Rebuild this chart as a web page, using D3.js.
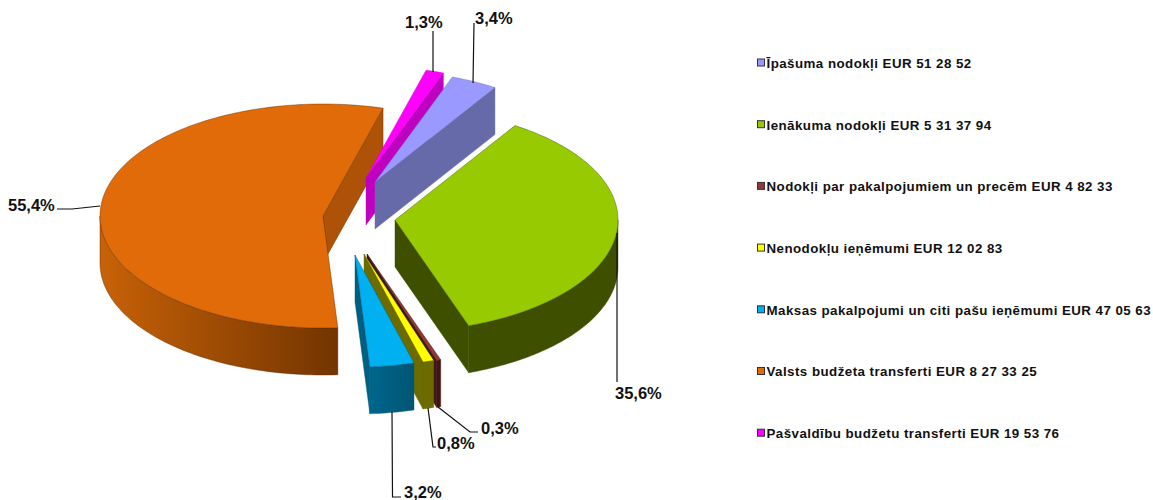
<!DOCTYPE html>
<html>
<head>
<meta charset="utf-8">
<script src="https://cdn.jsdelivr.net/npm/d3@7"></script>
<style>
    html, body { margin: 0; padding: 0; background: #fff; }
    text { font-family: "Liberation Sans", Arial, sans-serif; font-weight: bold; fill: #111; }
</style>
</head>
<body>
<div id="chart"></div>
<script>
// data
const categories = [
    "Īpašuma nodokļi EUR 51 28 52",
    "Ienākuma nodokļi EUR 5 31 37 94",
    "Nodokļi par pakalpojumiem un precēm EUR 4 82 33",
    "Nenodokļu ieņēmumi EUR 12 02 83",
    "Maksas pakalpojumi un citi pašu ieņēmumi EUR 47 05 63",
    "Valsts budžeta transferti EUR 8 27 33 25",
    "Pašvaldību budžetu transferti EUR 19 53 76"
];
const shares = [3.4, 35.6, 0.3, 0.8, 3.2, 55.4, 1.3];
const shareLabels = ["3,4%", "35,6%", "0,3%", "0,8%", "3,2%", "55,4%", "1,3%"];

// colours
const topColors = ["#9999ff", "#97ca00", "#953735", "#ffff00", "#00b0f0", "#e16b08", "#ff00ff"];
const wallColors = ["#666aa8", "#3f4f00", "#3f1414", "#6b6b00", "#005f80", "#a85008", "#c000c0"];

// layout
const width = 1153, height = 500;
const center = {x: 359, y: 218};
const rx = 223, ry = 112, depth = 47;
const startDeg = 20.3;
// how far each slice is pulled out of the pie, per slice
const explodeX = [16, 36, 8, 5, -4, -36, 7];
const explodeY = [-36, 2, 36, 36, 37, -2, -40];
// back to front
const drawOrder = [5, 6, 0, 1, 2, 3, 4];

// leaders: [points], label x, label y
const leaders = [
    {line: [[474, 23], [473, 83]], lx: 475, ly: 18},
    {line: [[617, 233], [617, 382]], lx: 615, ly: 393},
    {line: [[438, 407], [470, 432], [478, 432]], lx: 481, ly: 428},
    {line: [[428, 408], [433, 447], [436, 447]], lx: 437, ly: 443},
    {line: [[392, 412], [392.5, 497], [401, 497]], lx: 404, ly: 492},
    {line: [[57, 209], [72, 209], [100, 206]], lx: 8, ly: 205},
    {line: [[433, 31], [433, 72]], lx: 405, ly: 22}
];

const legendX = 757, legendTop = 63, legendStep = 61.7, swatch = 8;

const svg = d3.select("#chart").append("svg")
    .attr("width", width)
    .attr("height", height)
    .style("display", "block");

const defs = svg.append("defs");

// the orange wall darkens to the right, the blue one a little too
const wallGradient = (id, x1, x2, c1, c2) => {
    const g = defs.append("linearGradient")
        .attr("id", id)
        .attr("gradientUnits", "userSpaceOnUse")
        .attr("x1", x1).attr("x2", x2)
        .attr("y1", 0).attr("y2", 0);
    g.append("stop").attr("offset", 0).attr("stop-color", c1);
    g.append("stop").attr("offset", 1).attr("stop-color", c2);
};
wallGradient("wallOrange", 99, 340, "#c86208", "#723400");
wallGradient("wallBlue", 370, 414, "#00668c", "#005573");

const outerFill = i => i === 5 ? "url(#wallOrange)" : i === 4 ? "url(#wallBlue)" : wallColors[i];

const pie = d3.pie()
    .sort(null)
    .value(d => d)
    .startAngle(startDeg * Math.PI / 180)
    .endAngle(startDeg * Math.PI / 180 + 2 * Math.PI);

const slices = pie(shares);

const line = d3.line();
const closed = pts => line(pts) + "Z";

// t is measured clockwise from the top, as d3.pie does it
const rimPoint = (a, t, dy = 0) => [a.x + rx * Math.sin(t), a.y - ry * Math.cos(t) + dy];

const rim = (a, t0, t1, dy = 0) => {
    const n = Math.max(2, Math.ceil((t1 - t0) / 0.02));
    return d3.range(n + 1).map(k => rimPoint(a, t0 + (t1 - t0) * k / n, dy));
};

// thin outline in the slice's own dark shade
const edged = (sel, i) => sel
    .attr("stroke", i === 5 ? "#5a2a00" : wallColors[i])
    .attr("stroke-opacity", 0.7)
    .attr("stroke-width", 0.6)
    .attr("stroke-linejoin", "round");

const pieGroup = svg.append("g").attr("class", "pie");

drawOrder.forEach(i => {
    const s = slices[i];
    const t0 = s.startAngle, t1 = s.endAngle;
    const apex = {x: center.x + explodeX[i], y: center.y + explodeY[i]};
    const g = pieGroup.append("g");
    const apexPt = [apex.x, apex.y];

    // flat side walls, only the ones turned towards the viewer
    if (Math.sin(t0) < 0) {
        const a = rimPoint(apex, t0);
        edged(g.append("path")
            .attr("d", closed([apexPt, a, [a[0], a[1] + depth], [apex.x, apex.y + depth]]))
            .attr("fill", wallColors[i]), i);
    }
    if (Math.sin(t1) > 0) {
        const a = rimPoint(apex, t1);
        edged(g.append("path")
            .attr("d", closed([apexPt, a, [a[0], a[1] + depth], [apex.x, apex.y + depth]]))
            .attr("fill", i === 5 ? "#ad5206" : wallColors[i]), i);
    }

    // outer wall, the part of the rim in the front half
    const from = Math.max(t0, Math.PI / 2), to = Math.min(t1, 3 * Math.PI / 2);
    if (to > from) {
        const upper = rim(apex, from, to);
        const lower = rim(apex, from, to, depth).reverse();
        edged(g.append("path")
            .attr("d", closed(upper.concat(lower)))
            .attr("fill", outerFill(i)), i);
    }

    // top face
    edged(g.append("path")
        .attr("d", closed([apexPt].concat(rim(apex, t0, t1))))
        .attr("fill", topColors[i]), i);
});

// leaders and percentage labels
const labelGroup = svg.append("g").attr("class", "labels");

labelGroup.selectAll("path")
    .data(leaders)
    .join("path")
    .attr("d", d => line(d.line))
    .attr("fill", "none")
    .attr("stroke", "#111")
    .attr("stroke-width", 1.2);

labelGroup.selectAll("text")
    .data(leaders)
    .join("text")
    .attr("x", d => d.lx)
    .attr("y", d => d.ly)
    .attr("dy", "0.36em")
    .attr("font-size", 16.5)
    .text((d, i) => shareLabels[i]);

// legend
const legend = svg.append("g").attr("class", "legend")
    .selectAll("g")
    .data(categories)
    .join("g")
    .attr("transform", (d, i) => `translate(${legendX}, ${legendTop + i * legendStep})`);

legend.append("rect")
    .attr("x", 0.5)
    .attr("y", -swatch / 2)
    .attr("width", swatch - 1)
    .attr("height", swatch - 1)
    .attr("fill", (d, i) => topColors[i])
    .attr("stroke", "#333")
    .attr("stroke-width", 1);

legend.append("text")
    .attr("x", 9.5)
    .attr("dy", "0.36em")
    .attr("font-size", 13.33)
    .attr("letter-spacing", 0.45)
    .text(d => d);
</script>
</body>
</html>
